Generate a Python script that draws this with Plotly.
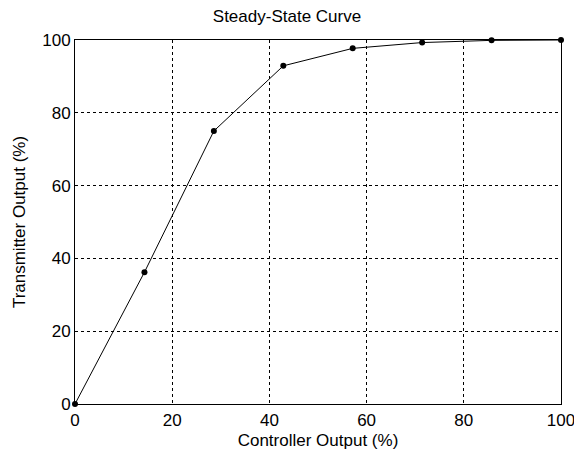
import plotly.graph_objects as go

# Steady-state response: controller output vs transmitter output
controller_output = [0, 14.29, 28.57, 42.86, 57.14, 71.43, 85.71, 100]
transmitter_output = [0, 36.2, 75.0, 92.9, 97.7, 99.3, 99.9, 100]
tick_values = [0, 20, 40, 60, 80, 100]

fig = go.Figure()
fig.add_trace(go.Scatter(
    x=controller_output, y=transmitter_output,
    mode="lines+markers",
    line=dict(color="black", width=1),
    marker=dict(color="black", size=6),
    showlegend=False,
    cliponaxis=False,
))

font = dict(family="Liberation Sans, Arial, sans-serif", size=17, color="black")
axis_common = dict(
    range=[0, 100],
    tickvals=tick_values,
    ticks="",
    showline=True, linecolor="black", linewidth=1, mirror=True,
    showgrid=True, gridcolor="black", gridwidth=1, griddash="3px,3px",
    zeroline=False,
    tickfont=font,
    automargin=False,
    ticklabeloverflow="allow",
)

fig.update_layout(
    width=574, height=450,
    margin=dict(l=75, r=13, t=40, b=46),
    paper_bgcolor="white", plot_bgcolor="white",
    font=font,
    title=dict(text="Steady-State Curve", x=0.5, xanchor="center",
               y=1 - 16 / 450, yanchor="middle", font=font),
    xaxis=dict(axis_common, ticklabelstandoff=1,
               title=dict(text="Controller Output (%)", standoff=4, font=font)),
    yaxis=dict(axis_common, ticklabelstandoff=0,
               title=dict(text="Transmitter Output (%)", standoff=12, font=font)),
)

fig.write_html("out.html")
